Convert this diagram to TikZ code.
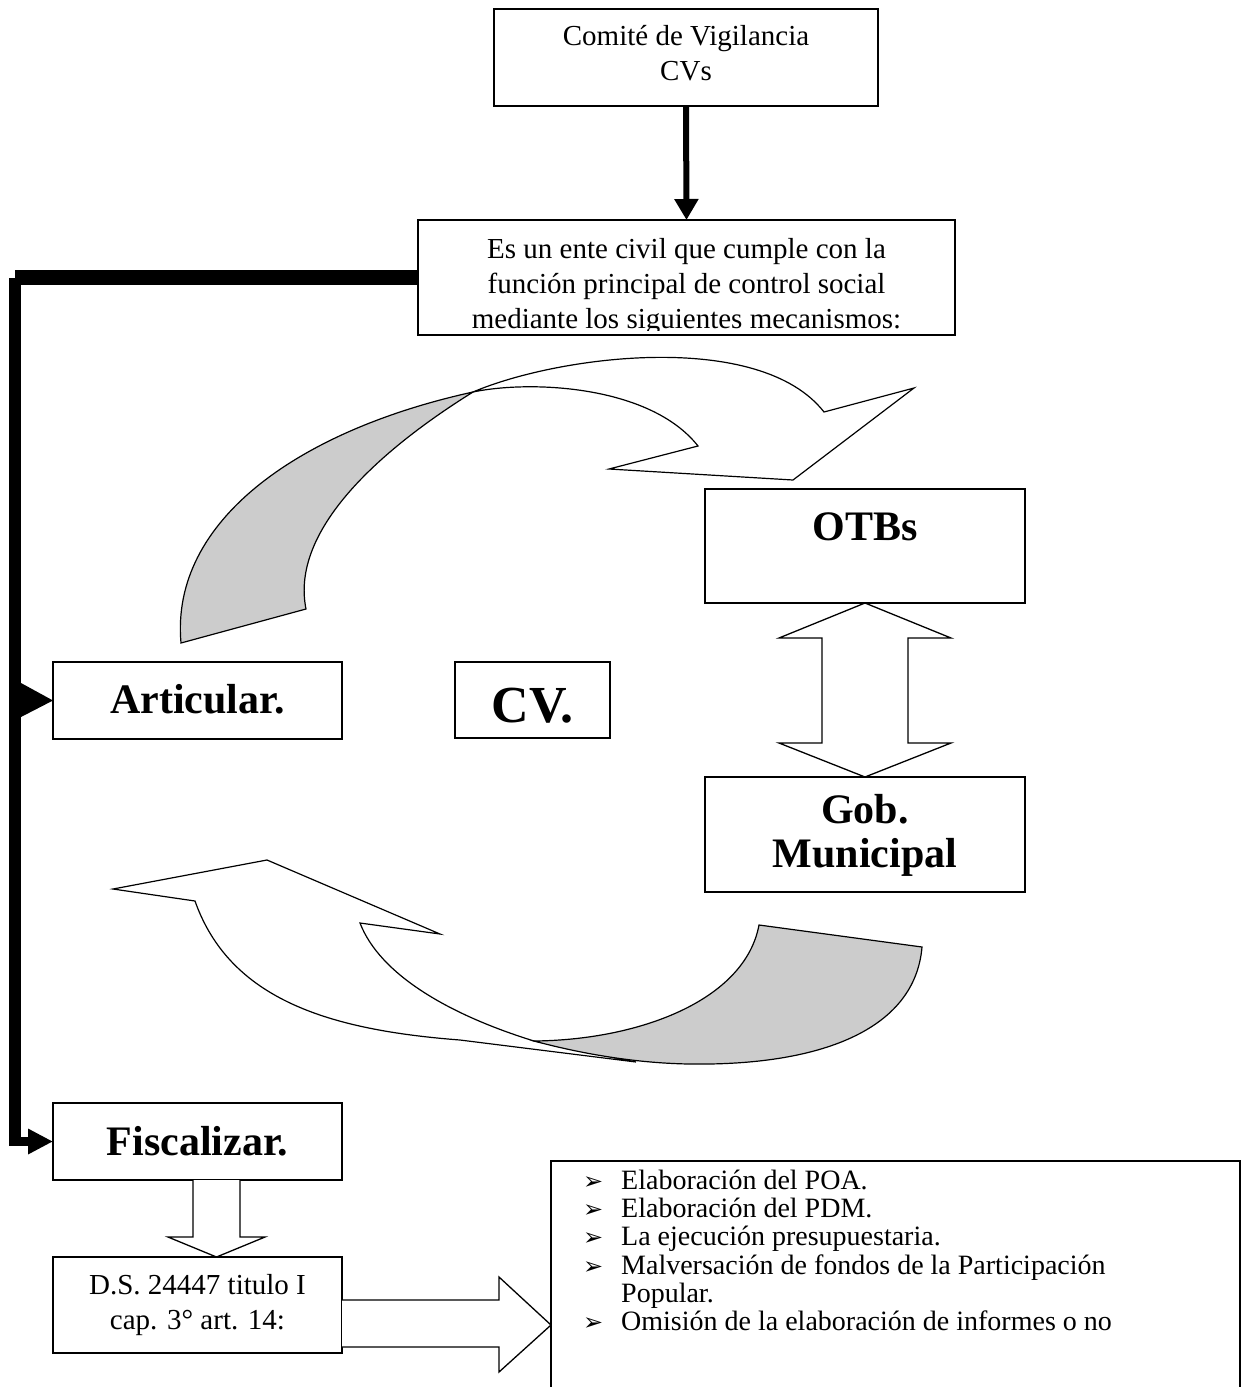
\documentclass[tikz,border=0pt]{standalone}
\usepackage{fontspec}
\setmainfont{Liberation Serif}
\newfontfamily\djv{DejaVu Sans}
\usetikzlibrary{arrows.meta}
\definecolor{shade}{RGB}{204,204,204}
\begin{document}
\begin{tikzpicture}[x=1pt,y=-1pt,
  box/.style={draw, line width=1.3pt, inner sep=0pt, outer sep=0pt, fill=white},
  txt/.style={anchor=base, inner sep=0pt, font=\fontsize{29}{35}\selectfont},
  btxt/.style={anchor=base, inner sep=0pt, font=\fontsize{42}{44}\selectfont\bfseries},
  ltxt/.style={anchor=base west, inner sep=0pt, font=\fontsize{28}{28}\selectfont},
  bul/.style={anchor=base west, inner sep=0pt, font=\djv\fontsize{24}{24}\selectfont},
  outl/.style={draw, line width=1.2pt, line join=miter},
  blockarrow/.style={draw, line width=1.3pt, fill=white}]
\useasboundingbox (0,0) rectangle (1244,1387);

% boxes
\node[box, minimum width=384pt, minimum height=97pt] (topbox) at (686,57.5) {};
\node[box, minimum width=537pt, minimum height=115pt] (secbox) at (686.5,277.5) {};
\node[box, minimum width=289pt, minimum height=77pt] (art) at (197.5,700.5) {};
\node[box, minimum width=155pt, minimum height=76pt] (cv) at (532.5,700) {};
\node[box, minimum width=320pt, minimum height=114pt] (otb) at (865,546) {};
\node[box, minimum width=320pt, minimum height=115pt] (gob) at (865,834.5) {};
\node[box, minimum width=289pt, minimum height=77pt] (fisc) at (197.5,1141.5) {};
\node[box, minimum width=289pt, minimum height=96pt] (ds) at (197.5,1305) {};
\node[box, minimum width=689pt, minimum height=259pt] (list) at (895.5,1290.5) {};

% texts
\node[txt] (t1) at (686,45) {Comité de Vigilancia};
\node[txt] (t2) at (686,80) {CVs};
\node[txt] (t3) at (686.5,258) {Es un ente civil que cumple con la};
\node[txt] (t4) at (686.5,293) {función principal de control social};
\begin{scope}
\clip (418,220) rectangle (955,330);
\node[txt] (t5) at (686.5,328) {mediante los siguientes mecanismos:};
\end{scope}
\node[btxt] (tart) at (197.5,713) {Articular.};
\node[anchor=base, inner sep=0pt, font=\fontsize{52}{54}\selectfont\bfseries] (tcv) at (532.5,722) {CV.};
\node[btxt] (totb) at (865,540) {OTBs};
\node[btxt] (tgob1) at (865,823) {Gob.};
\node[btxt] (tgob2) at (865,867) {Municipal};
\node[btxt] (tfisc) at (197.5,1155) {Fiscalizar.};
\node[txt] (tds1) at (197.5,1294) {D.S. 24447 titulo I};
\node[txt] (tds2) at (197.5,1329) {cap. 3° art. 14:};

\node[bul] (b1) at (583,1189) {➢};
\node[bul] (b2) at (583,1217.3) {➢};
\node[bul] (b3) at (583,1245.6) {➢};
\node[bul] (b4) at (583,1274) {➢};
\node[bul] (b6) at (583,1330) {➢};
\node[ltxt] (l1) at (621,1189) {Elaboración del POA.};
\node[ltxt] (l2) at (621,1217.3) {Elaboración del PDM.};
\node[ltxt] (l3) at (621,1245.6) {La ejecución presupuestaria.};
\node[ltxt] (l4) at (621,1274) {Malversación de fondos de la Participación};
\node[ltxt] (l5) at (621,1302) {Popular.};
\node[ltxt] (l6) at (621,1330) {Omisión de la elaboración de informes o no};

% top arrow
\draw[line width=6pt, -{Triangle[width=23pt,length=21pt]}] (topbox.south) -- (secbox.north);

% left thick connector
\coordinate (k1) at (15,277.5);
\coordinate (k2) at (15,278);
\coordinate (k3) at (15,1146);
\coordinate (k4) at (9,1141.5);
\coordinate (k5) at (21,683);
\coordinate (k6) at (21,717);
\draw[line width=15pt] (secbox.west) -- (k1);
\draw[line width=12pt] (k2) -- (k3);
\draw[line width=9pt, -{Triangle[width=24pt,length=25pt]}] (k4) -- (fisc.west);
\fill (k5) -- (art.west) -- (k6) -- cycle;

% double arrow OTBs <-> Gob
\draw[blockarrow] (otb.south) -- ++(-86,35) -- ++(43,0) -- ++(0,105) -- ++(-43,0) -- (gob.north)
  -- ++(86,-34) -- ++(-43,0) -- ++(0,-105) -- ++(43,0) -- cycle;

% Fiscalizar -> DS
\coordinate (dstop) at (216.5,1257);
\draw[blockarrow] (193,1180) -- (193,1237) -- (168,1237) -- (dstop) -- (265,1237) -- (240,1237) -- (240,1180);
% DS -> list
\coordinate (listin) at (551,1325);
\draw[blockarrow] (342,1300) -- (499,1300) -- (499,1277) -- (listin) -- (499,1372) -- (499,1347) -- (342,1347);

% upper curved arrow: white band
\draw[outl, fill=white] (473,392) .. controls (560,355) and (760,330) .. (824,412)
  -- (914,388) -- (793,480) -- (609,469) -- (698,446)
  .. controls (650,385) and (530,380) .. (473,392) -- cycle;
% upper curved arrow: gray part
\draw[outl, fill=shade] (181,643) .. controls (170,520) and (300,430) .. (473,392)
  .. controls (380,450) and (290,530) .. (306,609) -- cycle;

% lower curved arrow: white band
\draw[outl, fill=white] (195,901) -- (113,889) -- (267,860) -- (440,934) -- (360,923)
  .. controls (380,975) and (450,1015) .. (534,1041)
  -- (636,1062) -- (460,1040)
  .. controls (330,1030) and (230,1000) .. (195,901) -- cycle;
% lower curved arrow: gray part
\draw[outl, fill=shade] (534,1041) .. controls (640,1040) and (745,1000) .. (759,925)
  -- (922,947)
  .. controls (915,1030) and (820,1066) .. (689,1064)
  .. controls (630,1063) and (575,1052) .. (534,1041) -- cycle;
\end{tikzpicture}
\end{document}
